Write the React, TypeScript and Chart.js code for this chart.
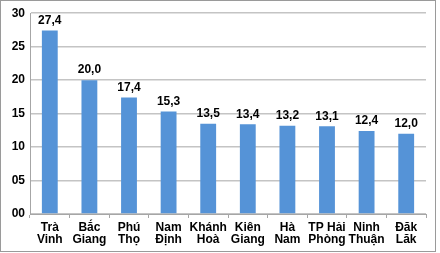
import React, { useEffect, useRef } from "react";
import { Chart, registerables } from "chart.js";

Chart.register(...registerables);

const categories: string[][] = [
  ["Trà", "Vinh"],
  ["Bắc", "Giang"],
  ["Phú", "Thọ"],
  ["Nam", "Định"],
  ["Khánh", "Hoà"],
  ["Kiên", "Giang"],
  ["Hà", "Nam"],
  ["TP Hải", "Phòng"],
  ["Ninh", "Thuận"],
  ["Đăk", "Lăk"],
];
const values: number[] = [27.4, 20.0, 17.4, 15.3, 13.5, 13.4, 13.2, 13.1, 12.4, 12.0];
const yTicks: number[] = [0, 5, 10, 15, 20, 25, 30];

const FONT = "'Liberation Sans', Arial, sans-serif";

const valueLabels = {
  id: "valueLabels",
  afterDatasetsDraw(chart: any) {
    const ctx = chart.ctx;
    const meta = chart.getDatasetMeta(0);
    ctx.save();
    ctx.font = `bold 12px ${FONT}`;
    ctx.fillStyle = "#000";
    ctx.textAlign = "center";
    ctx.textBaseline = "middle";
    meta.data.forEach((el: any, i: number) => {
      ctx.fillText(values[i].toFixed(1).replace(".", ","), el.x, el.y - 10);
    });
    ctx.restore();
  },
};

export default function App() {
  const ref = useRef<HTMLCanvasElement>(null);
  useEffect(() => {
    document.body.style.margin = "0";
    const chart = new Chart(ref.current!, {
      type: "bar",
      data: {
        labels: categories,
        datasets: [
          {
            data: values,
            backgroundColor: "#5593d7",
            barPercentage: 0.8,
            categoryPercentage: 0.5,
          },
        ],
      },
      options: {
        animation: false,
        responsive: false,
        maintainAspectRatio: false,
        layout: { padding: { left: 0, right: 9, top: 11.5, bottom: 0 } },
        plugins: {
          legend: { display: false },
          tooltip: { enabled: false },
        },
        scales: {
          x: {
            offset: true,
            grid: {
              offset: true,
              drawOnChartArea: false,
              drawTicks: true,
              tickLength: 4,
              color: "#a6a6a6",
            },
            border: { color: "#a6a6a6", width: 1 },
            ticks: {
              color: "#000",
              font: { family: FONT, size: 12, weight: "bold", lineHeight: 1.0 },
              padding: 4,
              maxRotation: 0,
              autoSkip: false,
            },
            afterFit(scale: any) {
              scale.height = 37;
            },
          },
          y: {
            min: 0,
            max: 30,
            afterBuildTicks(scale: any) {
              scale.ticks = yTicks.map((v) => ({ value: v }));
            },
            grid: {
              color: "#c4c4c4",
              lineWidth: 1.5,
              drawTicks: false,
            },
            border: { color: "#a6a6a6", width: 1 },
            ticks: {
              color: "#000",
              padding: 5,
              font: { family: FONT, size: 12, weight: "bold" },
              callback: (v: any) => String(v).padStart(2, "0"),
            },
            afterFit(scale: any) {
              scale.width = 29;
            },
          },
        },
      },
      plugins: [valueLabels],
    });
    return () => chart.destroy();
  }, []);
  return (
    <div
      style={{
        width: 436,
        height: 252,
        boxSizing: "border-box",
        border: "1px solid #9a9a9a",
        position: "relative",
        background: "#fff",
      }}
    >
      <canvas
        ref={ref}
        width={434}
        height={250}
        style={{ display: "block", width: 434, height: 250 }}
      />
    </div>
  );
}
